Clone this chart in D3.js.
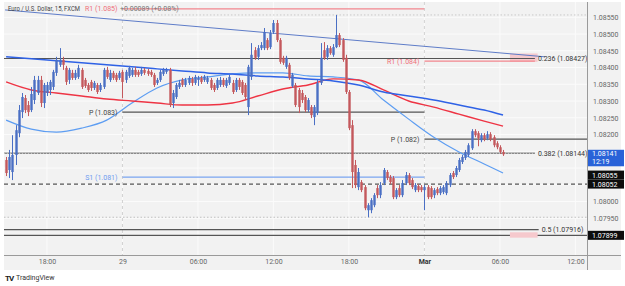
<!DOCTYPE html>
<html><head><meta charset="utf-8">
<script src="https://cdn.jsdelivr.net/npm/d3@7/dist/d3.min.js"></script>
<style>
html,body{margin:0;padding:0;background:#fff;}
svg{display:block;font-family:Roboto,"Liberation Sans",sans-serif;}
</style></head><body>
<svg id="c" width="625" height="286"></svg>
<script>
// ---------- DATA ----------
const firstBar = "2024-02-28T14:45";   // 15-minute bars
const opens = [1.08124,1.08094,1.08088,1.08139,1.08204,1.08267,1.08309,1.08288,1.08273,1.08303,
1.08324,1.08363,1.08294,1.08324,1.08333,1.08342,1.08384,1.08408,1.08423,1.08399,
1.08363,1.08384,1.08369,1.08372,1.08393,1.08363,1.08348,1.08357,1.08339,1.08348,
1.08333,1.08342,1.08393,1.08363,1.08384,1.08378,1.08369,1.08387,1.08363,1.08375,
1.08378,1.08393,1.08387,1.08381,1.08393,1.08390,1.08387,1.08378,1.08354,1.08363,
1.08381,1.08387,1.08393,1.08294,1.08312,1.08342,1.08363,1.08348,1.08354,1.08366,
1.08354,1.08363,1.08369,1.08363,1.08357,1.08363,1.08348,1.08339,1.08348,1.08363,
1.08345,1.08354,1.08354,1.08333,1.08363,1.08357,1.08348,1.08282,1.08372,1.08452,
1.08432,1.08458,1.08458,1.08482,1.08461,1.08506,1.08533,1.08482,1.08429,1.08402,
1.08408,1.08345,1.08348,1.08333,1.08324,1.08312,1.08273,1.08282,1.08252,1.08264,
1.08354,1.08452,1.08432,1.08458,1.08438,1.08461,1.08497,1.08482,1.08429,1.08327,
1.08228,1.08109,1.08043,1.08058,1.08043,1.07974,1.07974,1.07989,1.08040,1.08019,
1.08055,1.08088,1.08073,1.08070,1.08013,1.08040,1.08019,1.08055,1.08079,1.08064,
1.08034,1.08046,1.08043,1.08034,1.08043,1.08040,1.08019,1.08037,1.08025,1.08028,
1.08025,1.08049,1.08085,1.08079,1.08094,1.08118,1.08130,1.08139,1.08159,1.08210,
1.08204,1.08183,1.08198,1.08189,1.08201,1.08192,1.08174,1.08162,1.08148];
const highs = [1.08133,1.08154,1.08198,1.08228,1.08288,1.08324,1.08318,1.08300,1.08342,1.08375,
1.08375,1.08375,1.08354,1.08357,1.08363,1.08393,1.08432,1.08458,1.08432,1.08405,
1.08399,1.08393,1.08393,1.08408,1.08399,1.08369,1.08354,1.08363,1.08360,1.08354,
1.08354,1.08399,1.08402,1.08393,1.08390,1.08384,1.08390,1.08393,1.08393,1.08405,
1.08399,1.08402,1.08393,1.08402,1.08399,1.08396,1.08393,1.08384,1.08369,1.08393,
1.08399,1.08399,1.08399,1.08333,1.08354,1.08363,1.08369,1.08369,1.08375,1.08372,
1.08378,1.08375,1.08375,1.08378,1.08375,1.08369,1.08354,1.08369,1.08372,1.08369,
1.08369,1.08378,1.08363,1.08369,1.08369,1.08363,1.08354,1.08408,1.08473,1.08461,
1.08467,1.08476,1.08518,1.08488,1.08512,1.08542,1.08542,1.08488,1.08435,1.08435,
1.08414,1.08384,1.08354,1.08339,1.08333,1.08318,1.08309,1.08288,1.08288,1.08363,
1.08473,1.08476,1.08467,1.08464,1.08470,1.08557,1.08503,1.08488,1.08438,1.08333,
1.08243,1.08124,1.08100,1.08064,1.08049,1.07995,1.08010,1.08025,1.08049,1.08058,
1.08100,1.08094,1.08079,1.08076,1.08040,1.08049,1.08064,1.08088,1.08085,1.08070,
1.08055,1.08052,1.08049,1.08049,1.08049,1.08046,1.08040,1.08043,1.08046,1.08049,
1.08061,1.08085,1.08091,1.08106,1.08130,1.08139,1.08154,1.08174,1.08216,1.08216,
1.08210,1.08204,1.08204,1.08210,1.08207,1.08198,1.08180,1.08168,1.08154];
const lows = [1.08076,1.08070,1.08064,1.08109,1.08192,1.08249,1.08264,1.08255,1.08267,1.08291,
1.08318,1.08282,1.08279,1.08315,1.08318,1.08333,1.08375,1.08402,1.08393,1.08348,
1.08351,1.08363,1.08363,1.08366,1.08336,1.08339,1.08327,1.08330,1.08333,1.08321,
1.08327,1.08336,1.08366,1.08357,1.08363,1.08357,1.08363,1.08309,1.08354,1.08369,
1.08372,1.08372,1.08372,1.08375,1.08378,1.08375,1.08372,1.08342,1.08348,1.08357,
1.08375,1.08381,1.08282,1.08279,1.08306,1.08336,1.08342,1.08342,1.08348,1.08345,
1.08348,1.08345,1.08351,1.08357,1.08351,1.08333,1.08327,1.08333,1.08342,1.08342,
1.08339,1.08348,1.08321,1.08327,1.08333,1.08318,1.08303,1.08258,1.08363,1.08423,
1.08423,1.08452,1.08452,1.08452,1.08455,1.08500,1.08476,1.08411,1.08408,1.08396,
1.08363,1.08339,1.08282,1.08264,1.08294,1.08267,1.08267,1.08249,1.08228,1.08258,
1.08348,1.08423,1.08423,1.08438,1.08432,1.08458,1.08461,1.08417,1.08321,1.08213,
1.08040,1.08040,1.08034,1.08028,1.07974,1.07953,1.07965,1.07983,1.08010,1.08010,
1.08049,1.08064,1.08052,1.08007,1.08007,1.08013,1.08013,1.08049,1.08049,1.08037,
1.08028,1.08028,1.08028,1.07974,1.08007,1.08007,1.08010,1.08019,1.08019,1.08022,
1.08019,1.08043,1.08067,1.08073,1.08088,1.08112,1.08124,1.08133,1.08154,1.08192,
1.08165,1.08177,1.08180,1.08183,1.08180,1.08162,1.08156,1.08142,1.08136];
const closes = [1.08085,1.08133,1.08139,1.08213,1.08273,1.08312,1.08273,1.08267,1.08321,1.08363,
1.08363,1.08294,1.08348,1.08348,1.08357,1.08387,1.08423,1.08423,1.08408,1.08357,
1.08393,1.08369,1.08384,1.08399,1.08342,1.08345,1.08333,1.08339,1.08354,1.08327,
1.08348,1.08393,1.08372,1.08384,1.08369,1.08363,1.08384,1.08357,1.08387,1.08399,
1.08393,1.08378,1.08378,1.08393,1.08384,1.08381,1.08378,1.08348,1.08363,1.08387,
1.08393,1.08393,1.08288,1.08324,1.08348,1.08354,1.08348,1.08363,1.08369,1.08354,
1.08372,1.08369,1.08357,1.08372,1.08369,1.08339,1.08333,1.08363,1.08363,1.08348,
1.08363,1.08372,1.08327,1.08363,1.08342,1.08324,1.08312,1.08402,1.08438,1.08429,
1.08458,1.08467,1.08506,1.08458,1.08503,1.08533,1.08482,1.08417,1.08414,1.08429,
1.08369,1.08378,1.08288,1.08282,1.08303,1.08273,1.08303,1.08258,1.08282,1.08354,
1.08429,1.08429,1.08458,1.08443,1.08461,1.08497,1.08467,1.08423,1.08327,1.08219,
1.08088,1.08049,1.08088,1.08034,1.07980,1.07989,1.08004,1.08019,1.08019,1.08049,
1.08094,1.08070,1.08058,1.08013,1.08034,1.08019,1.08055,1.08079,1.08055,1.08043,
1.08049,1.08034,1.08034,1.08043,1.08013,1.08013,1.08034,1.08025,1.08040,1.08043,
1.08055,1.08079,1.08073,1.08100,1.08124,1.08133,1.08148,1.08168,1.08210,1.08198,
1.08189,1.08198,1.08186,1.08201,1.08186,1.08168,1.08162,1.08148,1.08141];

// moving averages, read every 8 bars (bar index)
const maBarIndex = [0,8,16,24,32,40,48,56,64,72,80,88,96,104,112,120,128,136,144,152,158];
const maSlow = [1.08432,1.08426,1.08420,1.08414,1.08408,1.08402,1.08396,1.08390,1.08384,1.08381,
1.08375,1.08372,1.08366,1.08360,1.08348,1.08327,1.08315,1.08303,1.08288,1.08273,1.08258];
const maMid = [1.08357,1.08333,1.08324,1.08315,1.08306,1.08300,1.08294,1.08288,1.08288,1.08294,
1.08315,1.08336,1.08348,1.08366,1.08363,1.08333,1.08300,1.08282,1.08261,1.08240,1.08225];
const maFast = [1.08243,1.08216,1.08207,1.08219,1.08243,1.08294,1.08339,1.08363,1.08372,1.08381,
1.08384,1.08384,1.08375,1.08372,1.08363,1.08303,1.08246,1.08192,1.08148,1.08112,1.08085];

// trend line
const trendTimes = ["2024-02-28T14:40","2024-03-01T09:36"];
const trendPrices = [1.08572,1.08432];

// pivot levels
const pivotLabels = ["R1 (1.085)","P (1.083)","S1 (1.081)","R1 (1.084)","P (1.082)"];
const pivotPrices = [1.08575,1.08267,1.08073,1.08419,1.08186];
const pivotFrom = ["2024-02-29T00:00","2024-02-29T00:00","2024-02-29T00:00","2024-03-01T00:00","2024-03-01T00:00"];
const pivotTo   = ["2024-03-01T00:00","2024-03-01T00:00","2024-03-01T00:00","2024-03-01T08:47","2024-03-01T13:00"];
const pivotKind = ["r","p","s","r","p"];

// fibonacci levels
const fibLabels = ["0.236 (1.08427)","0.382 (1.08144)","0.5 (1.07916)"];
const fibPrices = [1.08427,1.08144,1.07916];
const fibTo = ["2024-03-01T08:47","2024-03-01T08:47","2024-03-01T09:05"];
const fibBoxFrom = "2024-03-01T06:48";
const fibBoxTo = "2024-03-01T09:00";
const fibBoxTop = [1.08442,1.07908];
const fibBoxBottom = [1.08417,1.07892];

// other horizontal lines
const dashedPrice = 1.08052;
const lowDotPrice = 1.07953;
const highDotPrice = 1.08557;
const solidLowPrice = 1.07899;

// axes
const priceTicks = [1.0855,1.085,1.0845,1.084,1.0835,1.083,1.0825,1.082,1.0815,1.081,1.0805,1.08,1.0795,1.079];
const timeTicks = ["2024-02-28T18:00","2024-02-29T00:00","2024-02-29T06:00","2024-02-29T12:00","2024-02-29T18:00","2024-03-01T00:00","2024-03-01T06:00","2024-03-01T12:00"];
const timeTickLabels = ["18:00","29","06:00","12:00","18:00","Mar","06:00","12:00"];
const sessionBreaks = ["2024-02-29T00:00","2024-03-01T00:00"];

// price tags on the axis
const tagPrices = [1.08055,1.08052,1.07899];
const lastPrice = 1.08141;
const countdown = "12:19";
const titleText = "Euro / U.S. Dollar, 15, FXCM";
const changeText = "+0.00089 (+0.08%)";

// ---------- DRAW ----------
const parse = s => new Date(s);
const svg = d3.select("#c");
const L = 4, R = 587, T = 2, B = 255;

const x = d3.scaleTime()
  .domain([parse("2024-02-28T14:35"), parse("2024-03-01T12:55:30")])
  .range([L, R]);
const y = d3.scaleLinear().domain([1.0855, 1.08]).range([17.3, 201.5]);

svg.append("rect").attr("x",L).attr("y",T).attr("width",621-L).attr("height",270-T).attr("fill","#f2f2f2");

const defs = svg.append("defs");
defs.append("clipPath").attr("id","plot").append("rect")
  .attr("x",L).attr("y",T).attr("width",R-L).attr("height",B-T);

const g = svg.append("g").attr("clip-path","url(#plot)");

// grid
g.selectAll(".hg").data(priceTicks).join("line")
  .attr("x1",L).attr("x2",R).attr("y1",d=>y(d)).attr("y2",d=>y(d))
  .attr("stroke","#fbfbfb").attr("stroke-width",1);
g.selectAll(".vg").data(timeTicks.map(parse)).join("line")
  .attr("x1",d=>x(d)).attr("x2",d=>x(d)).attr("y1",T).attr("y2",B)
  .attr("stroke","#fbfbfb").attr("stroke-width",1);
g.selectAll(".sb").data(sessionBreaks.map(parse)).join("line")
  .attr("x1",d=>x(d)).attr("x2",d=>x(d)).attr("y1",T).attr("y2",B)
  .attr("stroke","#d2d2d2").attr("stroke-dasharray","3,3").attr("stroke-width",1);

// horizontal reference lines
const hline = (p, x1, x2, color, w, dash) => g.append("line")
  .attr("x1",x1).attr("x2",x2).attr("y1",y(p)).attr("y2",y(p))
  .attr("stroke",color).attr("stroke-width",w).attr("stroke-dasharray",dash||null);

hline(highDotPrice, x(parse("2024-02-29T00:00")), R, "#c8c8c8", 1, "1.5,2");
hline(lowDotPrice, L, R, "#c0c0c0", 1, "1.5,2");
hline(dashedPrice, L, R, "#555", 1.2, "4,3");
hline(solidLowPrice, L, R, "#555", 1.2);

// fib boxes + lines
fibBoxTop.forEach((tp,i)=>{
  g.append("rect").attr("x",x(parse(fibBoxFrom))).attr("width",x(parse(fibBoxTo))-x(parse(fibBoxFrom)))
   .attr("y",y(tp)).attr("height",y(fibBoxBottom[i])-y(tp)).attr("fill","#f6c9cd");
});
fibPrices.forEach((p,i)=>{
  const xe = x(parse(fibTo[i]));
  hline(p, L, xe, i===1 ? "#8a8a8a" : "#555", i===1 ? 1.6 : 1.2);
  if(i===1) hline(p, L, xe, "#cfcfcf", 1, "1,2");
  svg.append("text").attr("x",xe+3).attr("y",y(p)).attr("dy","0.35em")
    .attr("font-size",7).attr("fill","#333").text(fibLabels[i]);
});

// pivots
const pivotColor = {r:"#f2868e", p:"#555", s:"#7aa5f0"};
const pivotText = {r:"#ef6f79", p:"#444", s:"#6f9cf0"};
pivotPrices.forEach((p,i)=>{
  const x1 = x(parse(pivotFrom[i])), x2 = x(parse(pivotTo[i]));
  hline(p, x1, x2, pivotColor[pivotKind[i]], pivotKind[i]==="p" ? 1.2 : 1.3);
  svg.append("text").attr("x",x1-5).attr("y",y(p)).attr("dy","0.35em").attr("text-anchor","end")
    .attr("font-size",7).attr("fill",pivotText[pivotKind[i]]).text(pivotLabels[i]);
});

// trend line
g.append("line")
  .attr("x1",x(parse(trendTimes[0]))).attr("y1",y(trendPrices[0]))
  .attr("x2",x(parse(trendTimes[1]))).attr("y2",y(trendPrices[1]))
  .attr("stroke","#5e7cc8").attr("stroke-width",1);

// moving averages
const t0 = parse(firstBar);
const barTime = i => d3.timeMinute.offset(t0, 15*i);
const maLine = d3.line().x((d,i)=>x(barTime(maBarIndex[i]))).y(d=>y(d)).curve(d3.curveMonotoneX);
g.append("path").datum(maFast).attr("d",maLine).attr("fill","none").attr("stroke","#5d9df2").attr("stroke-width",1.2);
g.append("path").datum(maMid).attr("d",maLine).attr("fill","none").attr("stroke","#ee3444").attr("stroke-width",1.4);
g.append("path").datum(maSlow).attr("d",maLine).attr("fill","none").attr("stroke","#2f62e6").attr("stroke-width",1.5);

// candles
const bars = closes.map((c,i)=>({t:barTime(i), o:opens[i], h:highs[i], l:lows[i], c}));
const upC = "#4a6fc4", dnC = "#c4585c";
const cg = g.append("g");
cg.selectAll("line").data(bars).join("line")
  .attr("x1",d=>Math.round(x(d.t))+0.5).attr("x2",d=>Math.round(x(d.t))+0.5)
  .attr("y1",d=>y(d.h)).attr("y2",d=>y(d.l))
  .attr("stroke",d=>d.c>=d.o?upC:dnC).attr("stroke-width",1);
cg.selectAll("rect").data(bars).join("rect")
  .attr("x",d=>Math.round(x(d.t))-0.7).attr("width",2.4)
  .attr("y",d=>y(Math.max(d.o,d.c)))
  .attr("height",d=>Math.max(1,Math.abs(y(d.o)-y(d.c))))
  .attr("fill",d=>d.c>=d.o?upC:dnC);

// axes frame
svg.append("line").attr("x1",L).attr("x2",621).attr("y1",B+0.5).attr("y2",B+0.5).attr("stroke","#9a9a9a");
svg.append("line").attr("x1",R+0.5).attr("x2",R+0.5).attr("y1",T).attr("y2",270).attr("stroke","#9a9a9a");

// price tags layout (computed first so hidden tick labels can be skipped)
const tagH = 9;
let tags = tagPrices.map(p=>({p, cy:y(p)})).sort((a,b)=>b.cy-a.cy);
for(let i=1;i<tags.length;i++){
  if(tags[i].cy + tagH/2 > tags[i-1].cy - tagH/2) tags[i].cy = tags[i-1].cy - tagH;
}
const ly = y(lastPrice);
const boxes = tags.map(t=>[t.cy-tagH/2, t.cy+tagH/2]).concat([[ly-4.5, ly+12]]);
const hidden = d => boxes.some(b => y(d)+3.5 > b[0] && y(d)-3.5 < b[1]);

// price axis
const ya = svg.append("g").attr("transform",`translate(${R},0)`)
  .call(d3.axisRight(y).tickValues(priceTicks).tickFormat(d3.format(".5f")).tickSize(0).tickPadding(6));
ya.select(".domain").remove();
ya.selectAll("text").attr("font-size",7).attr("fill","#666").attr("font-family","Roboto, sans-serif")
  .style("display", d => hidden(d) ? "none" : null);

// time axis
const xa = svg.append("g").attr("transform",`translate(0,${B})`)
  .call(d3.axisBottom(x).tickValues(timeTicks.map(parse)).tickFormat((d,i)=>timeTickLabels[i]).tickSize(0).tickPadding(4));
xa.select(".domain").remove();
xa.selectAll("text").attr("font-size",7).attr("font-family","Roboto, sans-serif")
  .attr("font-weight",(d,i)=>timeTickLabels[i]==="Mar"?"bold":"normal")
  .attr("fill",(d,i)=>timeTickLabels[i]==="Mar"?"#333":"#666");

// price tags
const tg = svg.append("g");
tags.forEach(t=>{
  tg.append("rect").attr("x",R+1).attr("y",t.cy-tagH/2).attr("width",36).attr("height",tagH).attr("fill","#0d0d0d");
  tg.append("text").attr("x",R+5).attr("y",t.cy).attr("dy","0.35em").attr("font-size",7).attr("fill","#fff").text(d3.format(".5f")(t.p));
});
tg.append("rect").attr("x",R+1).attr("y",ly-4.5).attr("width",36).attr("height",16.5).attr("fill","#2962d8");
tg.append("text").attr("x",R+5).attr("y",ly-0.3).attr("dy","0.35em").attr("font-size",7).attr("fill","#fff").text(d3.format(".5f")(lastPrice));
tg.append("text").attr("x",R+5).attr("y",ly+7.6).attr("dy","0.35em").attr("font-size",7).attr("fill","#fff").text(countdown);

// header
svg.append("text").attr("x",8).attr("y",9).attr("dy","0.35em").attr("font-size",6.5).attr("fill","#444")
  .attr("textLength",72).attr("lengthAdjust","spacingAndGlyphs").text(titleText);
svg.append("text").attr("x",120).attr("y",9).attr("dy","0.35em").attr("font-size",7).attr("fill","#777").text(changeText);

// footer logo
svg.append("text").attr("x",5).attr("y",278).attr("dy","0.35em").attr("font-size",8).attr("font-weight","bold")
  .attr("letter-spacing",-1).attr("fill","#222").text("TV");
svg.append("text").attr("x",16).attr("y",278).attr("dy","0.35em").attr("font-size",7).attr("fill","#333").text("TradingView");
</script>
</body></html>
